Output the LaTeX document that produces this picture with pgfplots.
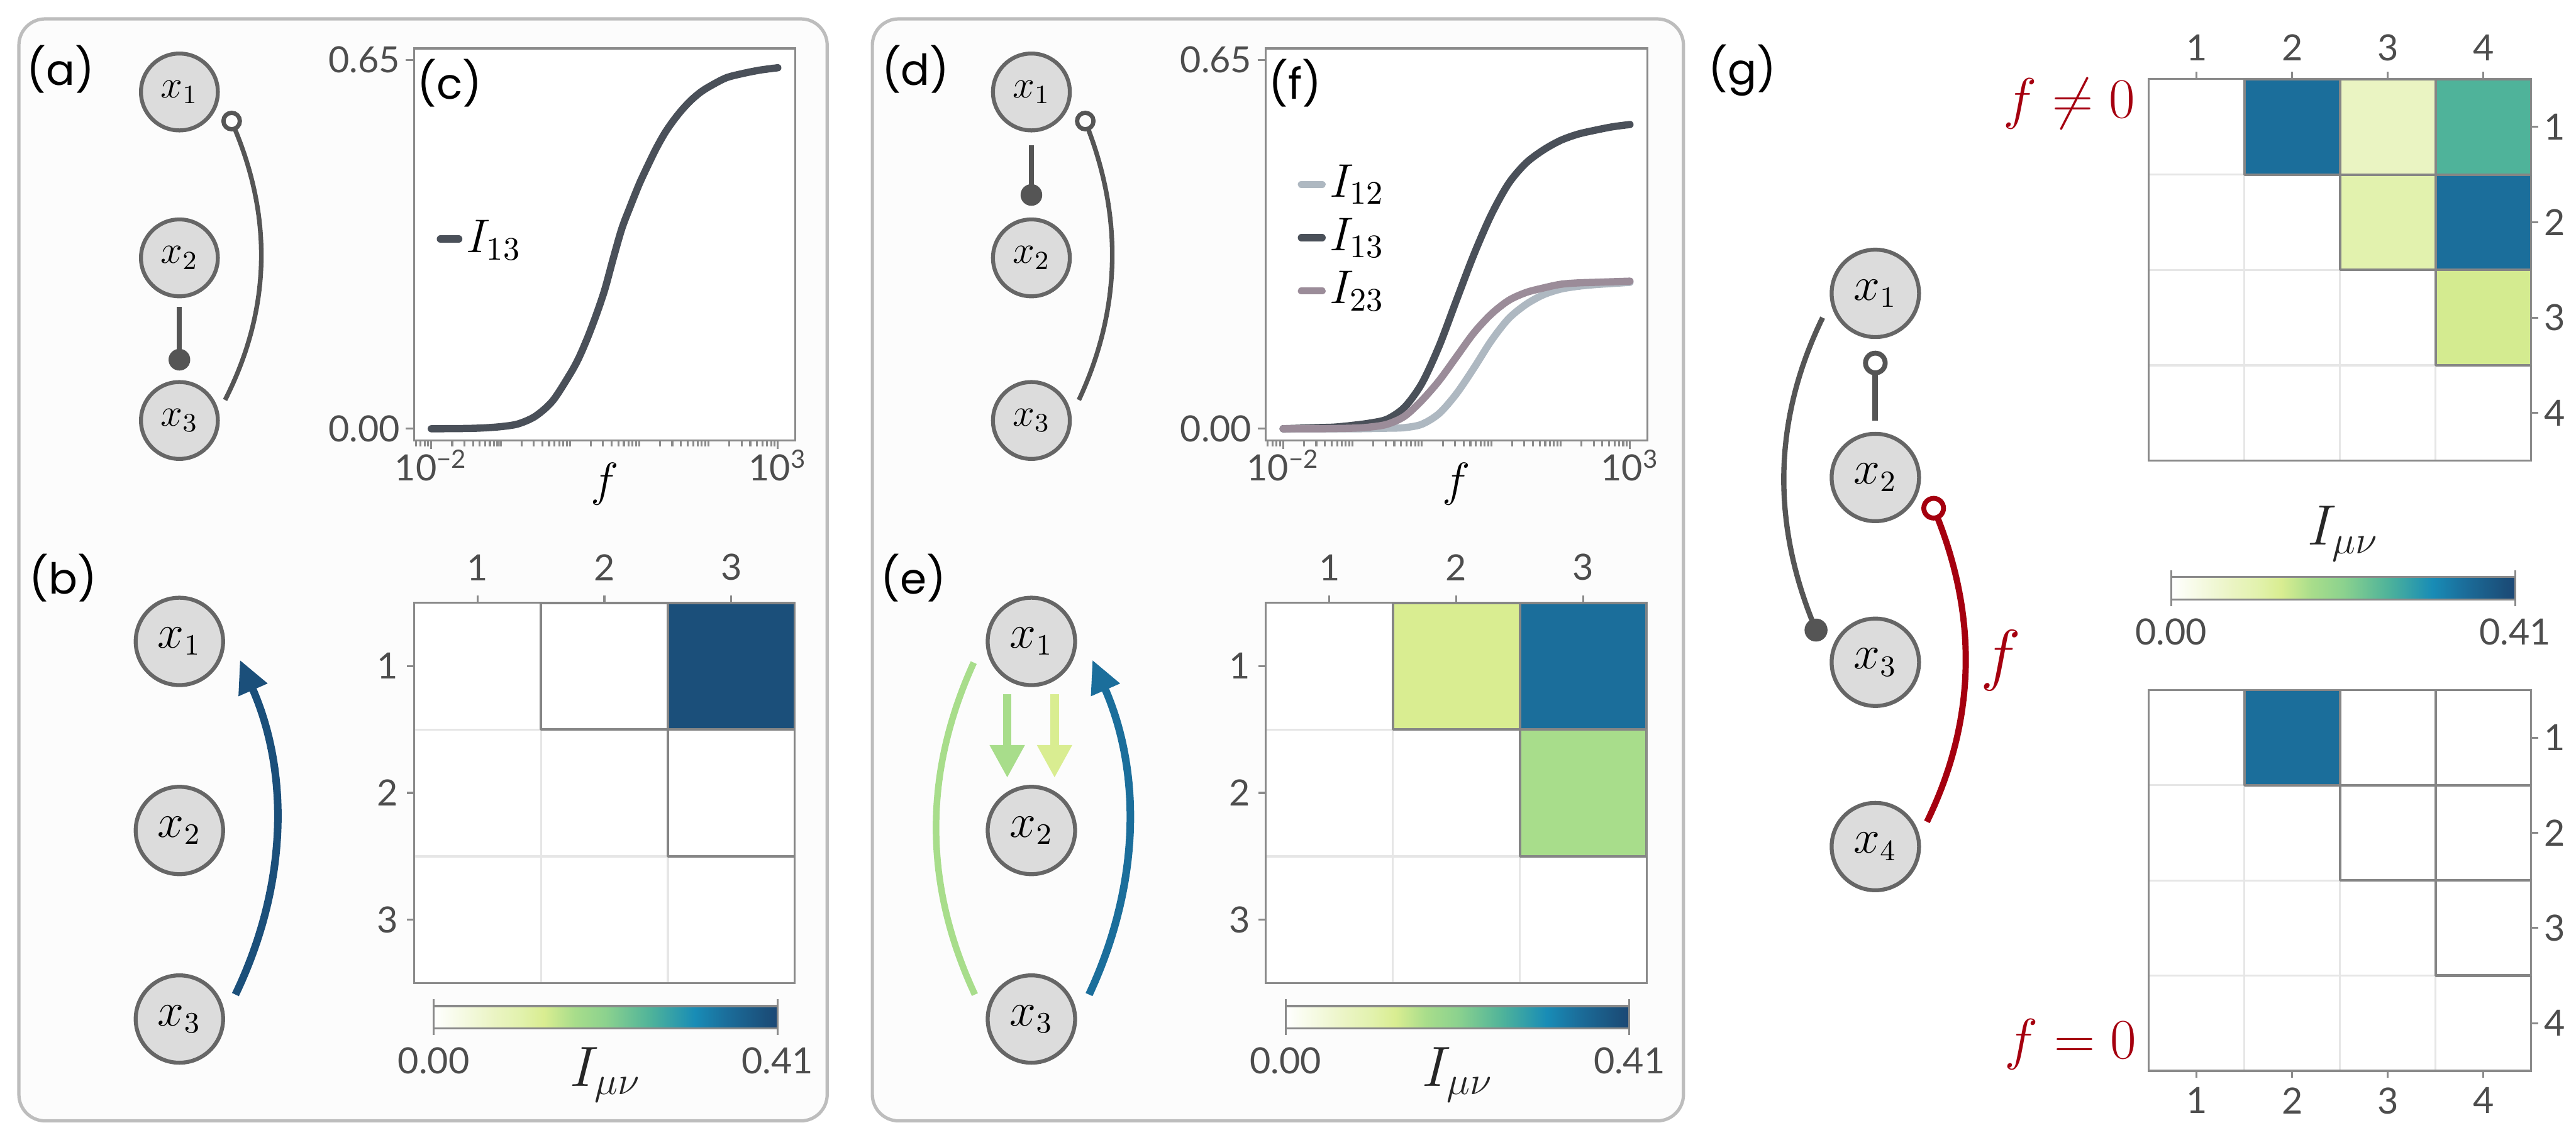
\documentclass[border=0pt]{standalone}
\usepackage{fontspec}
\setmainfont{Lato}
\newfontfamily\labfont{Poppins}
\usepackage{pgfplots}
\pgfplotsset{compat=1.18}
\usepgfplotslibrary{patchplots}
\usetikzlibrary{arrows.meta}

\definecolor{framegray}{HTML}{8A8A8A}
\definecolor{tickgray}{HTML}{4D4D4D}
\definecolor{gridgray}{HTML}{E6E6E6}
\definecolor{cellgray}{HTML}{858585}
\definecolor{nodefill}{HTML}{DCDCDC}
\definecolor{nodedraw}{HTML}{666666}
\definecolor{edgegray}{HTML}{555555}
\definecolor{boxgray}{HTML}{BDBDBD}
\definecolor{boxfill}{HTML}{FCFCFC}
\definecolor{cI12}{HTML}{AEB8C1}
\definecolor{cI13}{HTML}{4A5059}
\definecolor{cI23}{HTML}{9B8C99}
\definecolor{darkred}{HTML}{A5000F}
\definecolor{navy}{HTML}{1B4F7A}
\definecolor{steel}{HTML}{1B6E9B}
\definecolor{lgreen}{HTML}{A8DD8B}
\definecolor{lyellow}{HTML}{D9ED91}

\pgfplotsset{
  colormap={ylgnbu}{rgb255(0cm)=(255,255,255) rgb255(18cm)=(234,244,194)
    rgb255(25cm)=(226,242,174) rgb255(32cm)=(217,237,145) rgb255(41cm)=(168,221,139)
    rgb255(50cm)=(140,210,142) rgb255(63cm)=(79,179,154) rgb255(76cm)=(24,140,182)
    rgb255(85cm)=(27,110,155) rgb255(97cm)=(27,79,122) rgb255(100cm)=(28,72,118)},
}

\newcommand\tfont{\fontsize{11}{13}\selectfont}

\tikzset{
  gs/.style={circle, draw=nodedraw, fill=nodefill, line width=1.2pt, minimum size=23.4pt,
    inner sep=0pt, font=\fontsize{11.5}{12}\selectfont},
  gb/.style={circle, draw=nodedraw, fill=nodefill, line width=1.2pt, minimum size=26.6pt,
    inner sep=0pt, font=\fontsize{13.5}{14}\selectfont},
  plab/.style={font=\labfont\fontsize{13}{14}\selectfont, inner sep=0pt},
  cline/.style={line width=2.2pt, line cap=round, line join=round},
}

\begin{document}
\begin{tikzpicture}
\useasboundingbox (0,0) rectangle (784pt,-347pt);

\begin{scope}[x=0.5pt,y=-0.5pt]
  \draw[boxgray, line width=1pt, fill=boxfill, rounded corners=8pt] (11.5,11.5) rectangle (503.5,682.4);
  \draw[boxgray, line width=1pt, fill=boxfill, rounded corners=8pt] (531,11.5) rectangle (1024.7,682.4);
\end{scope}

% (c)
\begin{axis}[at={(126pt,-14.75pt)}, anchor=north west, scale only axis,
  width=116pt, height=119.4pt,
  xmode=log, xmin=0.005623, xmax=1778.3, ymin=-0.021, ymax=0.670,
  axis background/.style={fill=white},
  axis line style={framegray, line width=0.6pt},
  tick style={framegray, line width=0.6pt}, tick align=outside,
  major tick length=2.5pt,
  tick label style={text=tickgray, font=\tfont, inner sep=1pt},
  xtick={0.01,1000}, xticklabels={10\textsuperscript{−2},10\textsuperscript{3}},
  extra x ticks={0.006,0.007,0.008,0.009,0.02,0.03,0.04,0.05,0.06,0.07,0.08,0.09,
    0.1,0.2,0.3,0.4,0.5,0.6,0.7,0.8,0.9,1,2,3,4,5,6,7,8,9,10,20,30,40,50,60,70,80,90,
    100,200,300,400,500,600,700,800,900},
  extra x tick labels={},
  extra x tick style={major tick length=1.7pt},
  ytick={0,0.65}, yticklabels={0.00,0.65},
  xtick pos=bottom, ytick pos=left,
  xticklabel style={yshift=1pt}, yticklabel style={xshift=-0.6pt},
  xlabel={$f$},
  xlabel style={at={(axis description cs:0.5,0)}, anchor=north, yshift=-6.5pt,
    inner sep=0pt, font=\fontsize{15}{15}\selectfont},
  legend image code/.code={\draw[#1, line width=2.2pt, line cap=round] (0pt,0pt) -- (5.6pt,0pt);},
  legend style={at={(0.058,0.514)}, anchor=west, draw=none, fill=none,
    font=\fontsize{14.5}{16}\selectfont, inner sep=0pt, nodes={inner sep=1.2pt}},
  legend cell align=left]
\addplot[cI13, cline, smooth] table {
f I
0.01 0.000
0.03162 0.0005
0.05623 0.0015
0.1 0.0037
0.1778 0.0085
0.3162 0.022
0.5623 0.049
1 0.096
1.334 0.124
1.778 0.159
2.371 0.199
3.162 0.244
4.217 0.300
5.623 0.353
7.499 0.393
10 0.431
13.34 0.464
17.78 0.495
23.71 0.522
31.62 0.544
42.17 0.563
56.23 0.579
74.99 0.592
100 0.602
177.8 0.618
316.2 0.626
562.3 0.632
1000 0.636
};
\addlegendentry{$I_{13}$}
\end{axis}

% (f)
\begin{axis}[at={(385.25pt,-14.75pt)}, anchor=north west, scale only axis,
  width=116.1pt, height=119.4pt,
  xmode=log, xmin=0.005623, xmax=1778.3, ymin=-0.021, ymax=0.670,
  axis background/.style={fill=white},
  axis line style={framegray, line width=0.6pt},
  tick style={framegray, line width=0.6pt}, tick align=outside,
  major tick length=2.5pt,
  tick label style={text=tickgray, font=\tfont, inner sep=1pt},
  xtick={0.01,1000}, xticklabels={10\textsuperscript{−2},10\textsuperscript{3}},
  extra x ticks={0.006,0.007,0.008,0.009,0.02,0.03,0.04,0.05,0.06,0.07,0.08,0.09,
    0.1,0.2,0.3,0.4,0.5,0.6,0.7,0.8,0.9,1,2,3,4,5,6,7,8,9,10,20,30,40,50,60,70,80,90,
    100,200,300,400,500,600,700,800,900},
  extra x tick labels={},
  extra x tick style={major tick length=1.7pt},
  ytick={0,0.65}, yticklabels={0.00,0.65},
  xtick pos=bottom, ytick pos=left,
  xticklabel style={yshift=1pt}, yticklabel style={xshift=-0.6pt},
  xlabel={$f$},
  xlabel style={at={(axis description cs:0.5,0)}, anchor=north, yshift=-6.5pt,
    inner sep=0pt, font=\fontsize{15}{15}\selectfont},
  legend image code/.code={\draw[#1, line width=2.2pt, line cap=round] (0pt,-0.3pt) -- (6.3pt,-0.3pt);},
  legend style={at={(0.082,0.52)}, anchor=west, draw=none, fill=none,
    font=\fontsize{14.5}{16}\selectfont, inner sep=0pt,
    nodes={inner sep=1.2pt, minimum height=16.2pt}},
  legend cell align=left]
\addplot[cI12, cline, smooth] table {
f I
0.01 0.000
0.1 0.000
0.3162 0.001
0.5623 0.002
1 0.008
1.778 0.027
3.162 0.062
5.623 0.107
10 0.155
17.78 0.194
31.62 0.219
56.23 0.236
100 0.246
177.8 0.251
316.2 0.254
562.3 0.256
1000 0.258
};
\addlegendentry{$I_{12}$}
\addplot[cI13, cline, smooth] table {
f I
0.01 0.000
0.03162 0.002
0.05623 0.003
0.1 0.006
0.1778 0.010
0.3162 0.017
0.5623 0.038
1 0.080
1.778 0.146
3.162 0.227
5.623 0.307
10 0.377
17.78 0.432
31.62 0.468
56.23 0.491
100 0.508
177.8 0.519
316.2 0.526
562.3 0.532
1000 0.536
};
\addlegendentry{$I_{13}$}
\addplot[cI23, cline, smooth] table {
f I
0.01 0.000
0.03162 0.000
0.1 0.001
0.1778 0.003
0.3162 0.008
0.5623 0.022
1 0.050
1.778 0.085
3.162 0.127
5.623 0.169
10 0.202
17.78 0.226
31.62 0.240
56.23 0.248
100 0.2545
177.8 0.257
316.2 0.258
562.3 0.259
1000 0.260
};
\addlegendentry{$I_{23}$}
\end{axis}

% (b)
\begin{axis}[at={(126pt,-183.45pt)}, anchor=north west, scale only axis,
  width=115.9pt, height=115.85pt,
  xmin=0.5, xmax=3.5, ymin=0.5, ymax=3.5, y dir=reverse,
  axis background/.style={fill=white},
  axis line style={framegray, line width=0.6pt},
  tick style={framegray, line width=0.6pt}, tick align=outside,
  major tick length=2.2pt, minor tick length=0pt,
  tick label style={text=tickgray, font=\tfont, inner sep=1pt},
  xtick={1,2,3}, ytick={1,2,3}, xticklabels={1,2,3}, yticklabels={1,2,3},
  minor xtick={1.5,2.5}, minor ytick={1.5,2.5},
  xminorgrids, yminorgrids, minor grid style={gridgray, line width=0.6pt},
  xtick pos=top, xticklabel pos=top, ytick pos=left, yticklabel pos=left,
  xticklabel style={yshift=3.3pt}, yticklabel style={xshift=-1.45pt},
  colormap name=ylgnbu, point meta min=0, point meta max=0.41,
  colorbar horizontal,
  colorbar style={at={(0.0518,-0.06)}, anchor=north west, scale only axis,
    width=104.65pt, height=6.75pt,
    axis line style={framegray, line width=0.6pt},
    xtick={0,0.41}, xticklabels={0.00,0.41}, ytick=\empty,
    xtick style={framegray, line width=0.6pt}, tick align=outside, major tick length=2.1pt,
    xticklabel style={text=tickgray, font=\tfont, inner sep=1pt, yshift=-2.5pt},
    xlabel={$I_{\mu\nu}$},
    xlabel style={at={(axis description cs:0.5,0)}, anchor=base, yshift=-17.6pt,
      inner sep=0pt, font=\fontsize{17}{17}\selectfont, text=black!85}}]
\addplot[patch, patch type=rectangle, shader=faceted, faceted color=cellgray,
  line width=0.8pt, point meta=explicit] table[meta=c] {
x y c
1.5 0.5 0
2.5 0.5 0
2.5 1.5 0
1.5 1.5 0
2.5 0.5 0.398
3.5 0.5 0.398
3.5 1.5 0.398
2.5 1.5 0.398
2.5 1.5 0
3.5 1.5 0
3.5 2.5 0
2.5 2.5 0
};
\end{axis}

% (e)
\begin{axis}[at={(385.25pt,-183.45pt)}, anchor=north west, scale only axis,
  width=115.95pt, height=115.85pt,
  xmin=0.5, xmax=3.5, ymin=0.5, ymax=3.5, y dir=reverse,
  axis background/.style={fill=white},
  axis line style={framegray, line width=0.6pt},
  tick style={framegray, line width=0.6pt}, tick align=outside,
  major tick length=2.2pt, minor tick length=0pt,
  tick label style={text=tickgray, font=\tfont, inner sep=1pt},
  xtick={1,2,3}, ytick={1,2,3}, xticklabels={1,2,3}, yticklabels={1,2,3},
  minor xtick={1.5,2.5}, minor ytick={1.5,2.5},
  xminorgrids, yminorgrids, minor grid style={gridgray, line width=0.6pt},
  xtick pos=top, xticklabel pos=top, ytick pos=left, yticklabel pos=left,
  xticklabel style={yshift=3.3pt}, yticklabel style={xshift=-1.45pt},
  colormap name=ylgnbu, point meta min=0, point meta max=0.41,
  colorbar horizontal,
  colorbar style={at={(0.0518,-0.06)}, anchor=north west, scale only axis,
    width=104.65pt, height=6.75pt,
    axis line style={framegray, line width=0.6pt},
    xtick={0,0.41}, xticklabels={0.00,0.41}, ytick=\empty,
    xtick style={framegray, line width=0.6pt}, tick align=outside, major tick length=2.1pt,
    xticklabel style={text=tickgray, font=\tfont, inner sep=1pt, yshift=-2.5pt},
    xlabel={$I_{\mu\nu}$},
    xlabel style={at={(axis description cs:0.5,0)}, anchor=base, yshift=-17.6pt,
      inner sep=0pt, font=\fontsize{17}{17}\selectfont, text=black!85}}]
\addplot[patch, patch type=rectangle, shader=faceted, faceted color=cellgray,
  line width=0.8pt, point meta=explicit] table[meta=c] {
x y c
1.5 0.5 0.131
2.5 0.5 0.131
2.5 1.5 0.131
1.5 1.5 0.131
2.5 0.5 0.349
3.5 0.5 0.349
3.5 1.5 0.349
2.5 1.5 0.349
2.5 1.5 0.168
3.5 1.5 0.168
3.5 2.5 0.168
2.5 2.5 0.168
};
\end{axis}

% (g) top, f != 0
\begin{axis}[at={(654pt,-24.1pt)}, anchor=north west, scale only axis,
  width=116.35pt, height=116.15pt,
  xmin=0.5, xmax=4.5, ymin=0.5, ymax=4.5, y dir=reverse,
  axis background/.style={fill=white},
  axis line style={framegray, line width=0.6pt},
  tick style={framegray, line width=0.6pt}, tick align=outside,
  major tick length=2.2pt, minor tick length=0pt,
  tick label style={text=tickgray, font=\tfont, inner sep=1pt},
  xtick={1,2,3,4}, ytick={1,2,3,4}, xticklabels={1,2,3,4}, yticklabels={1,2,3,4},
  minor xtick={1.5,2.5,3.5}, minor ytick={1.5,2.5,3.5},
  xminorgrids, yminorgrids, minor grid style={gridgray, line width=0.6pt},
  xtick pos=top, xticklabel pos=top, ytick pos=right, yticklabel pos=right,
  xticklabel style={yshift=2.2pt}, yticklabel style={xshift=0.65pt},
  colormap name=ylgnbu, point meta min=0, point meta max=0.41]
\addplot[patch, patch type=rectangle, shader=faceted, faceted color=cellgray,
  line width=0.8pt, point meta=explicit] table[meta=c] {
x y c
1.5 0.5 0.349
2.5 0.5 0.349
2.5 1.5 0.349
1.5 1.5 0.349
2.5 0.5 0.074
3.5 0.5 0.074
3.5 1.5 0.074
2.5 1.5 0.074
3.5 0.5 0.258
4.5 0.5 0.258
4.5 1.5 0.258
3.5 1.5 0.258
2.5 1.5 0.1025
3.5 1.5 0.1025
3.5 2.5 0.1025
2.5 2.5 0.1025
3.5 1.5 0.349
4.5 1.5 0.349
4.5 2.5 0.349
3.5 2.5 0.349
3.5 2.5 0.135
4.5 2.5 0.135
4.5 3.5 0.135
3.5 3.5 0.135
};
\end{axis}

% (g) bottom, f = 0
\begin{axis}[at={(654pt,-210.05pt)}, anchor=north west, scale only axis,
  width=116.35pt, height=115.9pt,
  xmin=0.5, xmax=4.5, ymin=0.5, ymax=4.5, y dir=reverse,
  axis background/.style={fill=white},
  axis line style={framegray, line width=0.6pt},
  tick style={framegray, line width=0.6pt}, tick align=outside,
  major tick length=2.2pt, minor tick length=0pt,
  tick label style={text=tickgray, font=\tfont, inner sep=1pt},
  xtick={1,2,3,4}, ytick={1,2,3,4}, xticklabels={1,2,3,4}, yticklabels={1,2,3,4},
  minor xtick={1.5,2.5,3.5}, minor ytick={1.5,2.5,3.5},
  xminorgrids, yminorgrids, minor grid style={gridgray, line width=0.6pt},
  xtick pos=bottom, xticklabel pos=bottom, ytick pos=right, yticklabel pos=right,
  xticklabel style={yshift=-1.7pt}, yticklabel style={xshift=0.65pt},
  colormap name=ylgnbu, point meta min=0, point meta max=0.41,
  colorbar horizontal,
  colorbar style={at={(0.058,1.238)}, anchor=south west, scale only axis,
    width=104.7pt, height=6.85pt,
    axis line style={framegray, line width=0.6pt},
    xtick={0,0.41}, xticklabels={0.00,0.41}, ytick=\empty,
    xtick style={framegray, line width=0.6pt}, tick align=outside, major tick length=2.1pt,
    xticklabel style={text=tickgray, font=\tfont, inner sep=1pt, yshift=-2.5pt},
    xlabel={$I_{\mu\nu}$},
    xlabel style={at={(axis description cs:0.5,1)}, anchor=base, yshift=9.75pt,
      inner sep=0pt, font=\fontsize{17}{17}\selectfont, text=black!85}}]
\addplot[patch, patch type=rectangle, shader=faceted, faceted color=cellgray,
  line width=0.8pt, point meta=explicit] table[meta=c] {
x y c
1.5 0.5 0.349
2.5 0.5 0.349
2.5 1.5 0.349
1.5 1.5 0.349
2.5 0.5 0
3.5 0.5 0
3.5 1.5 0
2.5 1.5 0
3.5 0.5 0
4.5 0.5 0
4.5 1.5 0
3.5 1.5 0
2.5 1.5 0
3.5 1.5 0
3.5 2.5 0
2.5 2.5 0
3.5 1.5 0
4.5 1.5 0
4.5 2.5 0
3.5 2.5 0
3.5 2.5 0
4.5 2.5 0
4.5 3.5 0
3.5 3.5 0
};
\end{axis}

\begin{scope}[x=0.5pt,y=-0.5pt]
  % panel labels
  \node[plab] at (36.9,42.2) {(a)};
  \node[plab] at (38.5,352) {(b)};
  \node[plab] at (273.8,50.4) {(c)};
  \node[plab] at (557.3,42.2) {(d)};
  \node[plab] at (556,352) {(e)};
  \node[plab] at (788.5,50.4) {(f)};
  \node[plab] at (1060.5,42.7) {(g)};

  % (a) graph
  \draw[edgegray, line width=1.5pt] (109.2,187) -- (109.2,216);
  \fill[edgegray] (109.2,219) circle[radius=3.3pt];
  \draw[edgegray, line width=1.4pt] (141,74) .. controls (165.7,130) and (165.7,187) .. (137,243.5);
  \draw[edgegray, line width=1.3pt, fill=boxfill] (141,73.7) circle[radius=2.5pt];
  \node[gs] at (109.2,56) {$x_1$};
  \node[gs] at (109.2,157) {$x_2$};
  \node[gs] at (109.2,256) {$x_3$};

  % (d) graph
  \draw[edgegray, line width=1.5pt] (627.8,88.3) -- (627.8,116);
  \fill[edgegray] (627.8,118.7) circle[radius=3.3pt];
  \draw[edgegray, line width=1.4pt] (660.6,74) .. controls (683.1,130) and (683.1,187) .. (656.7,243.5);
  \draw[edgegray, line width=1.3pt, fill=boxfill] (660.6,73.7) circle[radius=2.5pt];
  \node[gs] at (627.8,56) {$x_1$};
  \node[gs] at (627.8,157) {$x_2$};
  \node[gs] at (627.8,256) {$x_3$};

  % (b) graph
  \draw[navy, line width=2.3pt, -{Triangle[width=9pt,length=10pt]}]
    (143.3,605.5) .. controls (175.8,537.6) and (175.8,469.6) .. (146,401.7);
  \node[gb] at (109.2,390.5) {$x_1$};
  \node[gb] at (109.2,505.6) {$x_2$};
  \node[gb] at (109.2,620.4) {$x_3$};

  % (e) graph
  \draw[lgreen, line width=2pt] (592.7,403.4) .. controls (562,470.8) and (562,538.1) .. (593.4,605.5);
  \draw[steel, line width=2.3pt, -{Triangle[width=9pt,length=10pt]}]
    (662.9,605.5) .. controls (694.6,537.6) and (694.6,469.6) .. (664.9,401.7);
  \draw[lgreen, line width=2.6pt, -{Triangle[width=10pt,length=10pt]}] (613.1,422.7) -- (613.1,473.6);
  \draw[lyellow, line width=2.6pt, -{Triangle[width=10pt,length=10pt]}] (641.9,422.7) -- (641.9,473.6);
  \node[gb] at (627.8,390.5) {$x_1$};
  \node[gb] at (627.8,505.6) {$x_2$};
  \node[gb] at (627.8,620.4) {$x_3$};

  % (g) graph
  \draw[edgegray, line width=1.7pt] (1141.5,221) -- (1141.5,256);
  \draw[edgegray, line width=1.5pt, fill=white] (1141.5,221) circle[radius=3pt];
  \draw[edgegray, line width=1.6pt] (1109.4,193.4) .. controls (1078.6,256.8) and (1078.6,320.2) .. (1105.4,383.6);
  \fill[edgegray] (1105.4,383.6) circle[radius=3.5pt];
  \draw[darkred, line width=1.9pt] (1177,309.4) .. controls (1203.7,373) and (1203.7,437) .. (1172.9,500.3);
  \draw[darkred, line width=1.5pt, fill=white] (1177,309.4) circle[radius=3pt];
  \node[gb] at (1141.5,178.6) {$x_1$};
  \node[gb] at (1141.5,290.7) {$x_2$};
  \node[gb] at (1141.5,403.2) {$x_3$};
  \node[gb] at (1141.5,515.4) {$x_4$};
  \node[darkred, font=\fontsize{19.5}{20}\selectfont, inner sep=0pt] at (1218,402) {$f$};

  \node[darkred, font=\fontsize{16.5}{17}\selectfont, inner sep=0pt, anchor=base east] at (1300.2,71.7) {$f\neq0$};
  \node[darkred, font=\fontsize{16.5}{17}\selectfont, inner sep=0pt, anchor=base east] at (1301,644.6) {$f=0$};
\end{scope}
\end{tikzpicture}
\end{document}
